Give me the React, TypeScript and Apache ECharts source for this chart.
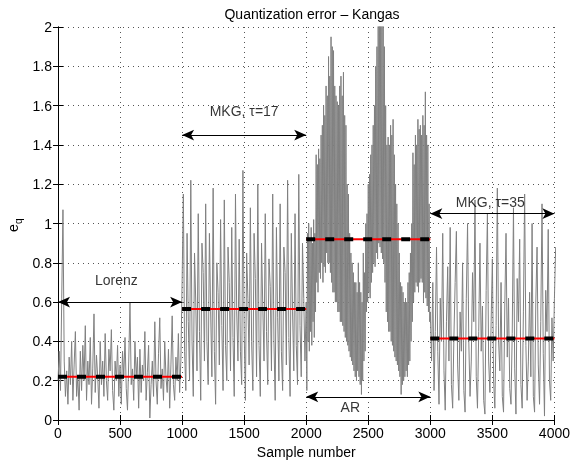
import React, { useEffect, useRef } from "react";
import * as echarts from "echarts";

// sample step between listed values (samples)
const STEP = 10;

// Lorenz segment, samples 0..990
const lorenz = [0.20,0.35,0.15,0.62,1.07,0.30,0.12,0.25,0.08,0.32,
0.18,0.40,0.10,0.28,0.45,0.12,0.22,0.05,0.35,0.15,
0.38,0.20,0.48,0.10,0.30,0.18,0.42,0.08,0.26,0.54,
0.14,0.33,0.22,0.06,0.40,0.18,0.30,0.12,0.44,0.20,
0.10,0.36,0.25,0.46,0.15,0.05,0.30,0.20,0.38,0.12,
0.28,0.08,0.35,0.22,0.42,0.16,0.05,0.30,0.60,0.18,
0.26,0.10,0.40,0.22,0.32,0.06,0.36,0.14,0.28,0.20,
0.45,0.10,0.24,0.38,0.01,0.18,0.30,0.12,0.50,0.20,
0.08,0.34,0.52,0.16,0.26,0.10,0.40,0.22,0.14,0.36,
0.06,0.28,0.53,0.18,0.10,0.32,0.20,0.44,0.14,0.30];

// MKG tau=17 segment, samples 1000..1990
const mkg17 = [0.70,1.15,0.35,0.15,0.95,0.50,0.20,1.22,0.40,0.12,
0.85,0.60,0.25,1.05,0.45,0.10,0.90,0.75,0.30,1.10,
0.40,0.18,0.95,0.55,0.22,1.18,0.35,0.08,0.80,0.65,
0.28,1.02,0.48,0.15,1.12,0.38,0.20,0.88,0.70,0.25,
0.98,0.42,0.12,1.15,0.55,0.30,0.92,0.35,0.18,1.27,
0.45,0.10,0.85,0.62,0.28,1.08,0.40,0.15,0.95,0.72,
0.22,1.20,0.38,0.12,0.90,0.58,0.30,1.05,0.45,0.18,
0.82,0.68,0.25,1.15,0.40,0.10,0.98,0.52,0.20,1.10,
0.35,0.15,0.88,0.75,0.28,1.22,0.42,0.12,0.95,0.55,
0.25,1.05,0.38,0.18,1.25,0.48,0.22,0.90,0.62,0.30];

// AR segment: local peaks at samples 2000,2010,..,2990
const arPeaks = [0.60,0.95,1.00,0.92,0.98,0.90,1.02,0.95,
1.35,1.30,1.38,1.33,1.45,1.50,1.60,1.55,1.70,1.65,1.85,1.75,
1.95,1.90,1.88,1.70,1.65,1.62,1.60,1.70,1.75,1.65,1.77,1.55,1.50,1.20,
1.15,0.95,0.85,0.80,0.75,0.70,0.70,0.65,0.80,0.70,0.65,0.60,0.85,0.75,
1.00,1.05,1.20,1.25,1.35,1.40,1.50,1.60,1.80,1.90,
2.05,2.10,2.10,2.05,2.05,1.90,1.60,
1.40,1.44,1.40,1.50,1.45,1.53,1.35,1.20,1.10,1.00,0.85,
0.70,0.68,0.65,0.60,0.62,0.60,0.70,0.75,0.85,1.00,
1.36,1.30,1.45,1.40,1.53,1.48,1.50,1.45,1.55,1.50,1.67,1.45,1.40,1.10];

// AR segment: local troughs at samples 2005,2015,..,2995
const arTroughs = [0.15,0.40,0.35,0.45,0.38,0.50,0.42,0.55,
0.70,0.65,0.75,0.72,0.80,0.70,0.78,0.75,0.85,0.80,0.80,0.75,
0.70,0.65,0.65,0.60,0.60,0.55,0.55,0.50,0.50,0.48,0.45,0.42,0.40,0.38,
0.35,0.32,0.30,0.28,0.25,0.22,0.20,0.25,0.22,0.18,0.13,0.20,0.30,0.35,
0.55,0.60,0.65,0.62,0.70,0.75,0.80,0.78,0.85,0.82,
0.90,0.88,0.85,0.82,0.80,0.70,0.55,
0.50,0.45,0.45,0.40,0.38,0.35,0.32,0.30,0.28,0.25,0.22,
0.13,0.18,0.20,0.22,0.25,0.22,0.28,0.30,0.40,0.50,
0.60,0.65,0.70,0.68,0.65,0.70,0.72,0.70,0.60,0.65,0.62,0.58,0.55,0.50];

// MKG tau=35 segment, samples 3000..4000
const mkg35 = [0.55,0.30,0.70,0.15,0.45,0.88,0.35,
0.08,0.62,0.40,0.95,0.25,0.05,
0.50,0.78,0.30,0.98,0.18,0.06,0.42,
0.70,0.96,0.28,0.10,0.55,0.35,0.80,
0.15,0.04,0.62,1.00,0.40,0.12,
0.30,0.75,0.50,1.12,0.22,0.06,
0.45,0.90,0.35,0.58,0.10,0.03,0.66,
1.05,0.30,0.14,0.50,0.82,0.20,
0.06,0.48,1.18,0.40,0.25,0.70,0.12,
0.04,0.58,0.95,0.32,0.62,0.16,0.08,
0.44,1.08,0.26,0.03,0.72,0.50,0.92,
0.18,0.06,0.55,1.15,0.38,0.10,0.30,
0.65,0.22,1.00,0.12,0.04,0.60,0.88,
0.28,0.08,0.50,1.10,0.34,0.02,0.66,
0.45,0.97,0.20,0.10,0.52,0.30,0.62,0.88];

// segment boundaries and mean quantization error per segment
const bounds = [0, 1000, 2000, 3000, 4000];
const means = [0.22, 0.565, 0.92, 0.415];

// annotation arrows (x from, x to, y) and labels (x, y, text)
const arrows = [
  [0, 1000, 0.6],
  [1000, 2000, 1.45],
  [2000, 3000, 0.118],
  [3000, 4000, 1.05],
];
const labels: [number, number, string][] = [
  [471, 0.71, "Lorenz"],
  [1500, 1.57, "MKG, \u03c4=17"],
  [2355, 0.066, "AR"],
  [3483, 1.11, "MKG, \u03c4=35"],
];

const FONT = "'Liberation Sans', Arial, Helvetica, sans-serif";

export default function App() {
  const ref = useRef<HTMLDivElement>(null);
  useEffect(() => {
    const chart = echarts.init(ref.current!, undefined, { renderer: "svg" });
    const signal: number[][] = [];
    lorenz.forEach((v, i) => signal.push([bounds[0] + i * STEP, v]));
    mkg17.forEach((v, i) => signal.push([bounds[1] + i * STEP, v]));
    arPeaks.forEach((v, i) => {
      signal.push([bounds[2] + i * STEP, v]);
      signal.push([bounds[2] + i * STEP + STEP / 2, arTroughs[i]]);
    });
    mkg35.forEach((v, i) => signal.push([bounds[3] + i * STEP, v]));

    const meanSeries: any[] = [];
    means.forEach((m, i) => {
      const d = [[bounds[i], m], [bounds[i + 1], m]];
      meanSeries.push({
        type: "line", data: d, symbol: "none", silent: true, z: 3,
        lineStyle: { color: "#ff0000", width: 2 },
      });
      meanSeries.push({
        type: "line", data: d, symbol: "none", silent: true, z: 4,
        lineStyle: { color: "#000000", width: 4, type: [9, 10], cap: "butt" },
      });
    });
    const tickCommon = { inside: true, length: 5, lineStyle: { color: "#000" } };
    const gridLine = { show: true, lineStyle: { color: "#555", width: 1, type: [1, 4] } };
    const labelStyle = { color: "#000", fontSize: 14, fontFamily: FONT, margin: 6 };
    chart.setOption({
      animation: false,
      title: {
        text: "Quantization error \u2013 Kangas",
        left: 307, top: 2, textAlign: "center",
        textStyle: { fontFamily: FONT, fontSize: 14, fontWeight: "normal", color: "#000" },
      },
      grid: { left: 58, right: 17, top: 27, bottom: 44, show: false },
      xAxis: [
        {
          type: "value", min: 0, max: 4000, interval: 500,
          axisLine: { lineStyle: { color: "#000", width: 1 } },
          axisTick: tickCommon,
          axisLabel: { ...labelStyle, formatter: (v: number) => String(v) },
          splitLine: gridLine,
          name: "Sample number", nameLocation: "middle", nameGap: 25,
          nameTextStyle: { color: "#000", fontSize: 14, fontFamily: FONT },
        },
        {
          type: "value", min: 0, max: 4000, interval: 500, position: "top",
          axisLine: { show: true, lineStyle: { color: "#000", width: 1 } },
          axisTick: tickCommon, axisLabel: { show: false }, splitLine: { show: false },
        },
      ],
      yAxis: [
        {
          type: "value", min: 0, max: 2, interval: 0.2,
          axisLine: { show: true, lineStyle: { color: "#000", width: 1 } },
          axisTick: tickCommon,
          axisLabel: labelStyle,
          splitLine: gridLine,
        },
        {
          type: "value", min: 0, max: 2, interval: 0.2, position: "right",
          axisLine: { show: true, lineStyle: { color: "#000", width: 1 } },
          axisTick: tickCommon, axisLabel: { show: false }, splitLine: { show: false },
        },
      ],
      graphic: [
        {
          type: "group", x: 13, y: 225, rotation: Math.PI / 2,
          children: [
            { type: "text", x: -7, y: 0, style: { text: "e", font: `14px ${FONT}`, fill: "#000", textVerticalAlign: "middle" } },
            { type: "text", x: 1, y: 5, style: { text: "q", font: `10px ${FONT}`, fill: "#000", textVerticalAlign: "middle" } },
          ],
        },
      ],
      series: [
        {
          type: "line", data: signal, symbol: "none", silent: true, z: 2,
          lineStyle: { color: "#808080", width: 1 },
        },
        ...meanSeries,
        {
          type: "line", data: [], symbol: "none", silent: true,
          markLine: {
            silent: true, symbol: ["arrow", "arrow"], symbolSize: [8, 12],
            label: { show: false },
            lineStyle: { color: "#000", width: 1, type: "solid" },
            emphasis: { disabled: true },
            data: arrows.map((a) => [{ coord: [a[0], a[2]] }, { coord: [a[1], a[2]] }]),
          },
          z: 5,
        },
        {
          type: "scatter", symbolSize: 1, silent: true, z: 6,
          itemStyle: { color: "rgba(0,0,0,0)" },
          data: labels.map((l) => ({ value: [l[0], l[1]], name: l[2] })),
          label: {
            show: true, position: "inside", formatter: (p: any) => p.name,
            color: "#000", fontSize: 14, fontFamily: FONT,
          },
        },
      ],
    });
    return () => chart.dispose();
  }, []);
  return <div ref={ref} style={{ position: "fixed", left: 0, top: 0, width: 573, height: 464 }} />;
}
